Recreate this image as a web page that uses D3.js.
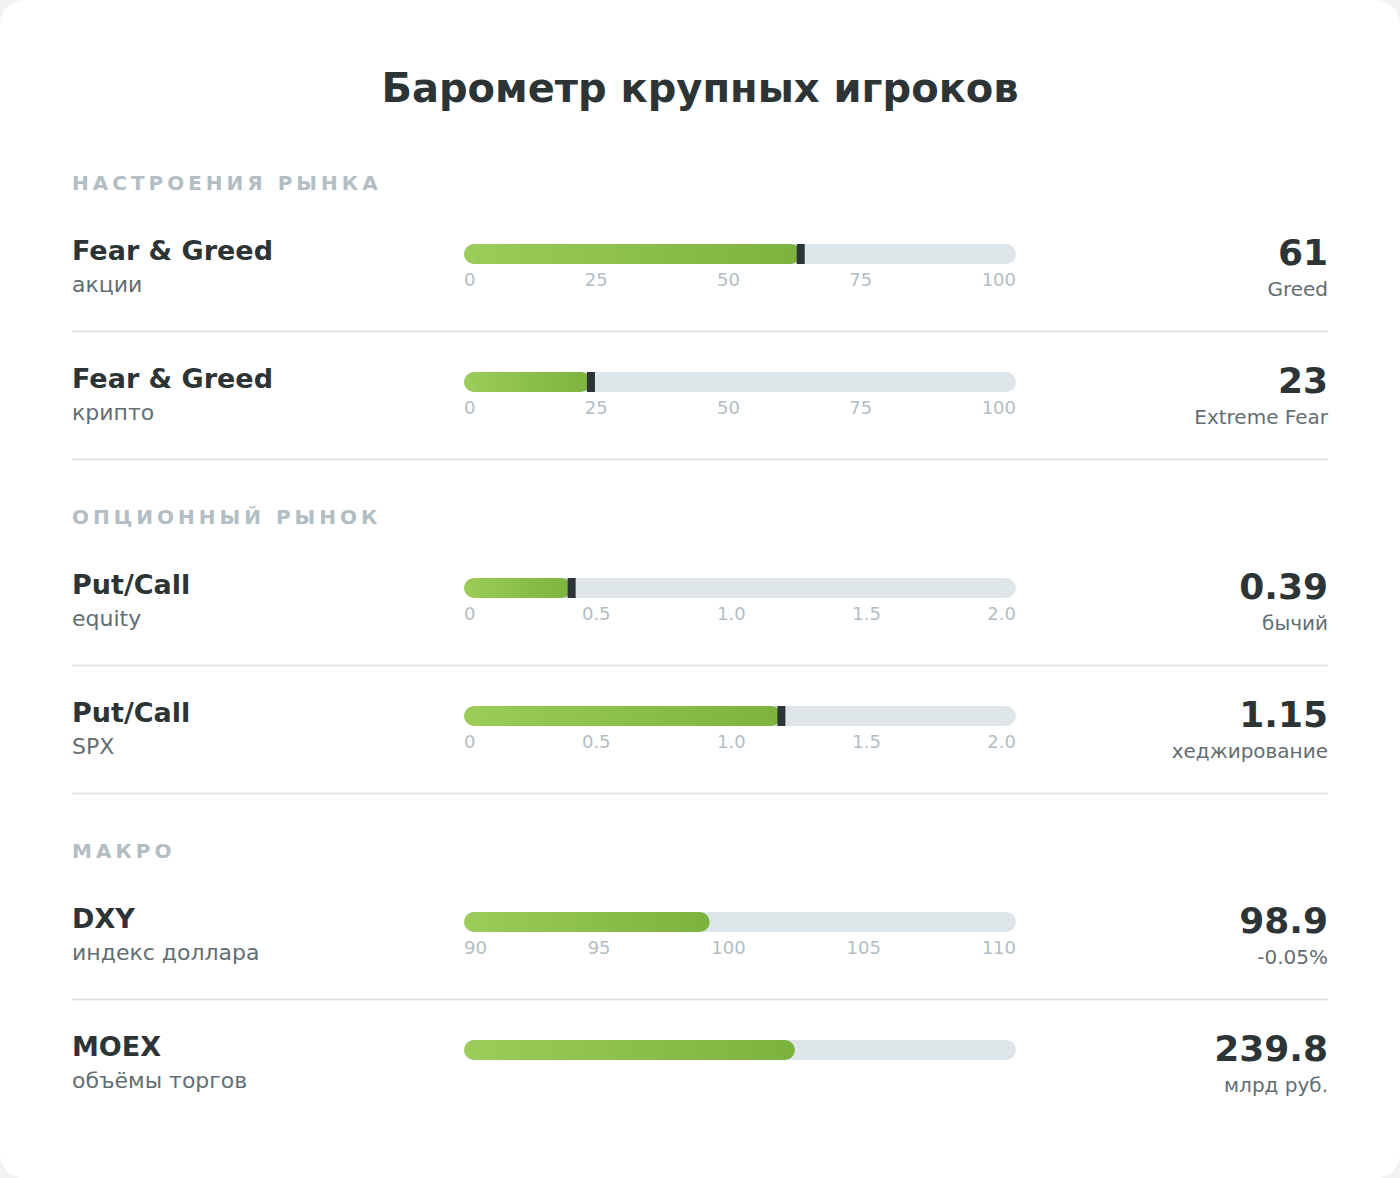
<!DOCTYPE html>
<html><head><meta charset="utf-8">
<script src="https://cdn.jsdelivr.net/npm/d3@7"></script>
<style>body{margin:0;background:#f2f2f2;font-family:"DejaVu Sans",sans-serif}</style>
</head><body><div id="chart"></div>
<script>
// data
const sections = ["НАСТРОЕНИЯ РЫНКА", "ОПЦИОННЫЙ РЫНОК", "МАКРО"]
const names = ["Fear & Greed", "Fear & Greed", "Put/Call", "Put/Call", "DXY", "MOEX"]
const subs = ["акции", "крипто", "equity", "SPX", "индекс доллара", "объёмы торгов"]
const values = [61, 23, 0.39, 1.15, 98.9, 239.8]
const valueLabels = ["61", "23", "0.39", "1.15", "98.9", "239.8"]
const statuses = ["Greed", "Extreme Fear", "бычий", "хеджирование", "-0.05%", "млрд руб."]
const domains = [[0, 100], [0, 100], [0, 2], [0, 2], [90, 110], [0, 400]]
const ticks = [["0","25","50","75","100"], ["0","25","50","75","100"], ["0","0.5","1.0","1.5","2.0"], ["0","0.5","1.0","1.5","2.0"], ["90","95","100","105","110"], []]
const markers = [true, true, true, true, false, false]
const rowSection = [0, 0, 1, 1, 2, 2]

const W = 1400, H = 1178
const svg = d3.select("#chart").append("svg").attr("width", W).attr("height", H)
svg.append("rect").attr("width", W).attr("height", H).attr("rx", 24).attr("fill", "white")

const grad = svg.append("defs").append("linearGradient").attr("id", "g")
grad.append("stop").attr("offset", "0%").attr("stop-color", "#9ccc5a")
grad.append("stop").attr("offset", "100%").attr("stop-color", "#7cb33e")

svg.append("text").attr("x", W / 2).attr("y", 102).attr("text-anchor", "middle")
    .attr("font-size", 40).attr("font-weight", "bold").attr("fill", "#2d3436")
    .text("Барометр крупных игроков")

const x0 = 464, x1 = 1016
let y = 0
const rowTops = []
sections.forEach((s, si) => {
    const sy = 183 + si * 334
    svg.append("text").attr("x", 72).attr("y", sy + 7).attr("font-size", 20).attr("font-weight", "bold")
        .attr("letter-spacing", 4).attr("fill", "#b2bec3").text(s)
})

names.forEach((n, i) => {
    const sec = rowSection[i], idx = i % 2
    const top = 183 + sec * 334 + idx * 128   // section label y
    const by = top + 61                        // bar top
    const g = svg.append("g")
    g.append("text").attr("x", 72).attr("y", by + 16).attr("font-size", 27).attr("font-weight", "bold")
        .attr("fill", "#2d3436").text(n)
    g.append("text").attr("x", 72).attr("y", by + 48).attr("font-size", 22).attr("fill", "#636e72").text(subs[i])

    const sc = d3.scaleLinear().domain(domains[i]).range([x0, x1]).clamp(true)
    const vx = sc(values[i])
    g.append("rect").attr("x", x0).attr("y", by).attr("width", x1 - x0).attr("height", 20).attr("rx", 10).attr("fill", "#dfe6e9")
    g.append("rect").attr("x", x0).attr("y", by).attr("width", vx - x0).attr("height", 20).attr("rx", 10).attr("fill", "url(#g)")
    if (markers[i]) {
        g.append("rect").attr("x", vx - 4).attr("y", by).attr("width", 8).attr("height", 20).attr("fill", "#2d3436")
    }
    // ticks laid out like space-between
    const tt = ticks[i]
    if (tt.length) {
        const texts = tt.map(t => g.append("text").attr("y", by + 42).attr("font-size", 18).attr("fill", "#b2bec3").text(t))
        const ws = texts.map(t => t.node().getComputedTextLength())
        const gap = (x1 - x0 - d3.sum(ws)) / (tt.length - 1)
        let cx = x0
        texts.forEach((t, k) => { t.attr("x", cx); cx += ws[k] + gap })
    }
    g.append("text").attr("x", 1328).attr("y", by + 21).attr("text-anchor", "end").attr("font-size", 36)
        .attr("font-weight", "bold").attr("fill", "#2d3436").text(valueLabels[i])
    g.append("text").attr("x", 1328).attr("y", by + 52).attr("text-anchor", "end").attr("font-size", 20)
        .attr("fill", "#636e72").text(statuses[i])
    if (i < names.length - 1) {
        g.append("line").attr("x1", 72).attr("x2", 1328).attr("y1", by + 87.5).attr("y2", by + 87.5)
            .attr("stroke", "#dfe6e9").attr("stroke-width", 2)
    }
})
</script></body></html>
